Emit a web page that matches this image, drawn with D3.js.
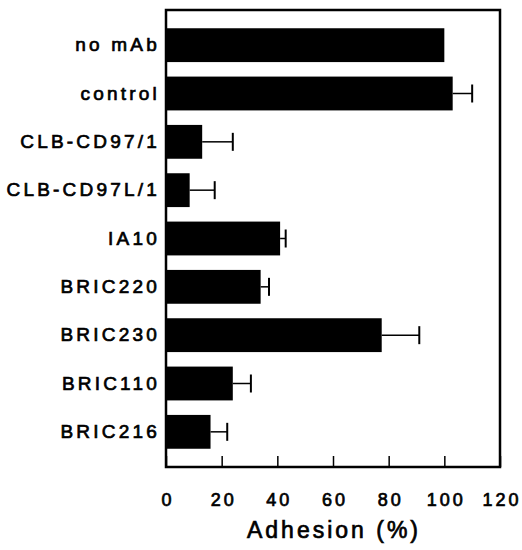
<!DOCTYPE html>
<html><head><meta charset="utf-8">
<script src="https://cdn.jsdelivr.net/npm/d3@7"></script>
<style>body{margin:0;background:#fff}</style>
</head><body>
<svg id="c" width="522" height="550"></svg>
<script>
const categories = ["no mAb","control","CLB-CD97/1","CLB-CD97L/1","IA10","BRIC220","BRIC230","BRIC110","BRIC216"];
const values = [100, 103, 13, 8.5, 41, 34, 77.5, 24, 16];
const errors = [0, 7, 11, 9, 2, 3, 13.5, 6.5, 6];
const xTicks = [0, 20, 40, 60, 80, 100, 120];

const svg = d3.select("#c");
const L = 166, R = 500, T = 10, B = 467;
const x = d3.scaleLinear().domain([0, 120]).range([L, R]);
const y = d3.scaleBand().domain(categories).range([21, 456]).paddingInner(0.3).paddingOuter(0.15);
const font = "'Liberation Sans', Arial, sans-serif";

function styleText(sel, size, ls) {
  sel.attr("font-family", font).attr("font-size", size).attr("font-weight", "normal")
    .attr("letter-spacing", ls).attr("fill", "#000")
    .attr("stroke", "#000").attr("stroke-width", 0.7);
}

// bars
svg.selectAll("rect.bar").data(categories).join("rect")
  .attr("x", x(0)).attr("y", d => y(d))
  .attr("width", (d,i) => x(values[i]) - x(0))
  .attr("height", y.bandwidth()).attr("fill", "#000");

// error bars
const eg = svg.append("g").attr("stroke", "#000");
categories.forEach((c, i) => {
  if (!errors[i]) return;
  const cy = y(c) + y.bandwidth()/2;
  eg.append("line").attr("x1", x(values[i])).attr("x2", x(values[i] + errors[i]))
    .attr("y1", cy).attr("y2", cy).attr("stroke-width", 1.5);
  eg.append("line").attr("x1", x(values[i] + errors[i])).attr("x2", x(values[i] + errors[i]))
    .attr("y1", cy - 9).attr("y2", cy + 9).attr("stroke-width", 2);
});

// frame
svg.append("rect").attr("x", L).attr("y", T).attr("width", R - L).attr("height", B - T)
  .attr("fill", "none").attr("stroke", "#000").attr("stroke-width", 2.5);

// bottom axis (inward ticks)
const xAxis = d3.axisBottom(x).tickValues(xTicks).tickSize(-11).tickPadding(26).tickFormat(d3.format("d"));
const ga = svg.append("g").attr("transform", `translate(0,${B})`).call(xAxis);
ga.select(".domain").remove();
ga.selectAll(".tick line").attr("stroke", "#000").attr("stroke-width", 1.5);
styleText(ga.selectAll(".tick text"), 18, 3);
ga.selectAll(".tick text").attr("dx", 1.5);

// y labels
const yAxis = d3.axisLeft(y).tickSize(0).tickPadding(6);
const gy = svg.append("g").attr("transform", `translate(${L},0)`).call(yAxis);
gy.select(".domain").remove();
styleText(gy.selectAll(".tick text"), 19, 3.2);

// x title
const t = svg.append("text").attr("x", 334).attr("y", 538).attr("text-anchor", "middle").text("Adhesion (%)");
styleText(t, 23, 3);
</script>
</body></html>
